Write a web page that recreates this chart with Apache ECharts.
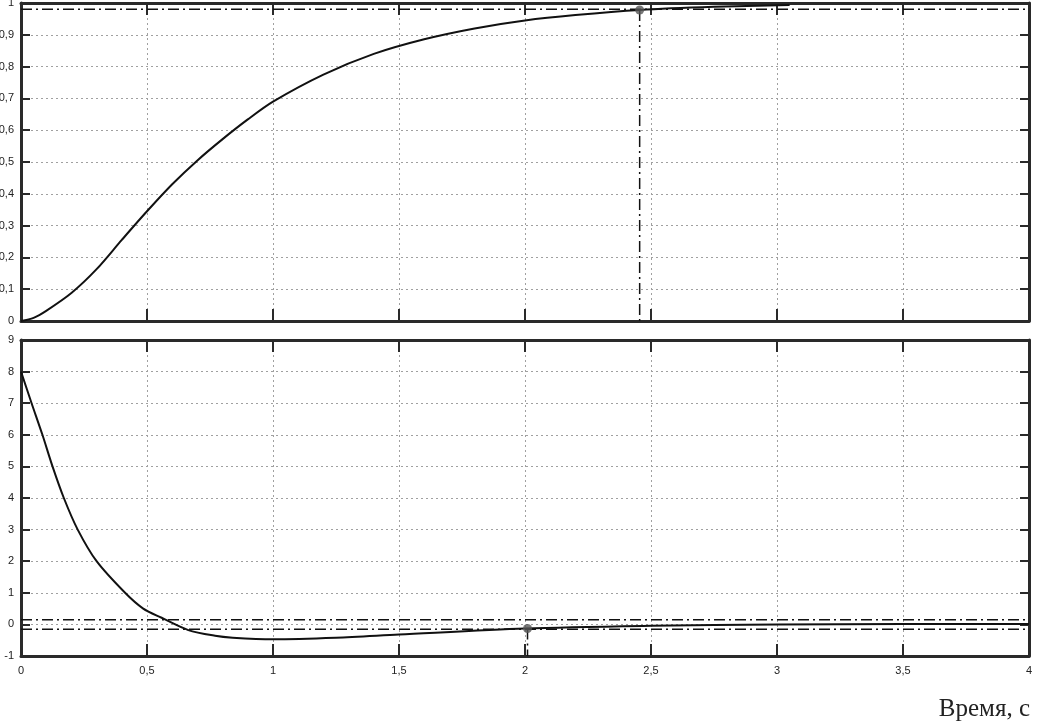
<!DOCTYPE html>
<html>
<head>
<meta charset="utf-8">
<script src="https://cdn.jsdelivr.net/npm/echarts@6/dist/echarts.min.js"></script>
<style>
	html,body{margin:0;padding:0;background:#fff;}
	#chart{width:1038px;height:724px;}
</style>
</head>
<body>
<div id="chart"></div>
<script>
// верхний график: переходная характеристика
var topT = [0, 0.05, 0.1, 0.2, 0.3, 0.4, 0.5, 0.6, 0.7, 0.8, 0.9, 1.0, 1.2, 1.4, 1.6, 1.8, 2.0, 2.2, 2.455, 2.75, 3.05];
var topY = [0, 0.01, 0.032, 0.088, 0.163, 0.255, 0.345, 0.43, 0.505, 0.572, 0.634, 0.69, 0.775, 0.84, 0.886, 0.92, 0.945, 0.962, 0.978, 0.988, 0.994];
// нижний график
var botT = [0, 0.042, 0.085, 0.125, 0.17, 0.225, 0.30, 0.413, 0.485, 0.558, 0.664, 0.77, 0.84, 1.0, 1.25, 1.5, 2.0, 2.5, 3.0, 3.5, 4.0];
var botY = [8, 7.0, 6.0, 5.0, 4.0, 3.0, 2.0, 1.0, 0.5, 0.21, -0.18, -0.36, -0.42, -0.47, -0.42, -0.32, -0.13, -0.045, 0.0, 0.01, 0.01];
// уровни и отмеченные точки
var topLevel = [0.98];
var botLevel = [0.15, -0.15];
var topMark = [2.455, 0.978];
var botMark = [2.01, -0.13];
var xTicks = [0, 4, 0.5];
var topTicks = [0, 1, 0.1];
var botTicks = [-1, 9, 1];

function pairs(t, y){
	var res = [];
	for(var i = 0;i<t.length;i++){
		res.push([t[i], y[i]]);
	}
	return res;
}

var frameColor = '#2a2a2a';
var dashDot = [11, 4, 2, 4];

function xAxisFor(gi, pos, showLabel){
	return {
		type : 'value', gridIndex : gi, position : pos,
		min : xTicks[0], max : xTicks[1], interval : xTicks[2],
		axisLine : { show : true, onZero : false, lineStyle : { color : frameColor, width : 3 } },
		axisTick : { show : true, inside : true, length : 12, lineStyle : { color : frameColor, width : 2 } },
		axisLabel : {
			show : showLabel, color : '#222', fontSize : 11, fontFamily : 'Liberation Sans', margin : 9,
			formatter : function(v){ return String(+v.toFixed(2)).replace('.', ','); }
		},
		splitLine : { show : pos == 'bottom', lineStyle : { color : '#a0a0a0', width : 1, type : [2, 3] } }
	};
}

function yAxisFor(gi, pos, ticks){
	return {
		type : 'value', gridIndex : gi, position : pos,
		min : ticks[0], max : ticks[1], interval : ticks[2],
		axisLine : { show : true, onZero : false, lineStyle : { color : frameColor, width : 3 } },
		axisTick : { show : true, inside : true, length : 9, lineStyle : { color : frameColor, width : 2 } },
		axisLabel : {
			show : pos == 'left', color : '#222', fontSize : 11, fontFamily : 'Liberation Sans', margin : 7,
			formatter : function(v){ return String(+v.toFixed(2)).replace('.', ','); }
		},
		splitLine : { show : pos == 'left', lineStyle : { color : '#a0a0a0', width : 1, type : [2, 3] } }
	};
}

function refLine(xi, yi, data){
	return {
		type : 'line', xAxisIndex : xi, yAxisIndex : yi, data : data,
		symbol : 'none', silent : true, z : 3,
		lineStyle : { color : '#111', width : 1.5, type : dashDot }
	};
}

var myChart = echarts.init(document.getElementById('chart'));
var option = {
	animation : false,
	title : {
		text : 'Время, с', right : 3, top : 692,
		textStyle : { fontFamily : 'Liberation Serif', fontSize : 25, fontWeight : 'normal', color : '#222' }
	},
	grid : [
		{ left : 21, right : 9, top : 3, height : 318, outerBoundsMode : 'none', containLabel : false },
		{ left : 21, right : 9, top : 340, height : 316, outerBoundsMode : 'none', containLabel : false }
	],
	xAxis : [
		xAxisFor(0, 'bottom', false),
		xAxisFor(0, 'top', false),
		xAxisFor(1, 'bottom', true),
		xAxisFor(1, 'top', false)
	],
	yAxis : [
		yAxisFor(0, 'left', topTicks),
		yAxisFor(0, 'right', topTicks),
		yAxisFor(1, 'left', botTicks),
		yAxisFor(1, 'right', botTicks)
	],
	series : [
		refLine(0, 0, [[xTicks[0], topLevel[0]], [xTicks[1], topLevel[0]]]),
		refLine(0, 0, [[topMark[0], topMark[1]], [topMark[0], topTicks[0]]]),
		refLine(2, 2, [[xTicks[0], botLevel[0]], [xTicks[1], botLevel[0]]]),
		refLine(2, 2, [[xTicks[0], botLevel[1]], [xTicks[1], botLevel[1]]]),
		refLine(2, 2, [[botMark[0], botMark[1]], [botMark[0], botTicks[0]]]),
		{
			type : 'line', xAxisIndex : 0, yAxisIndex : 0, data : pairs(topT, topY),
			symbol : 'none', smooth : 0.3, z : 4,
			lineStyle : { color : '#111', width : 2 }
		},
		{
			type : 'line', xAxisIndex : 2, yAxisIndex : 2, data : pairs(botT, botY),
			symbol : 'none', smooth : 0.3, z : 4,
			lineStyle : { color : '#111', width : 2 }
		},
		{
			type : 'scatter', xAxisIndex : 0, yAxisIndex : 0, data : [topMark],
			symbolSize : 9, z : 5, itemStyle : { color : '#555' }
		},
		{
			type : 'scatter', xAxisIndex : 2, yAxisIndex : 2, data : [botMark],
			symbolSize : 9, z : 5, itemStyle : { color : '#555' }
		}
	]
};
myChart.setOption(option);
</script>
</body>
</html>
